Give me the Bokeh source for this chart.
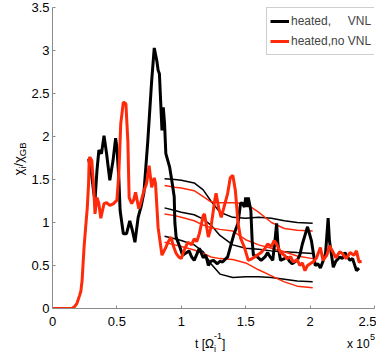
from bokeh.plotting import figure
from bokeh.models import Legend, LegendItem, FixedTicker, Range1d, Div
from bokeh.layouts import row, column
from bokeh.embed import file_html
from bokeh.resources import INLINE

# ---- data (time in units of 1e5 / Omega_i) ----
red_t = [0.00, 0.10, 0.15, 0.17, 0.19, 0.21, 0.22, 0.23, 0.245, 0.255, 0.27, 0.28, 0.285, 0.29, 0.305, 0.32, 0.33,
         0.345, 0.36, 0.375, 0.40, 0.42, 0.445, 0.475, 0.50, 0.515, 0.53, 0.55, 0.57, 0.585, 0.595, 0.615, 0.63,
         0.645, 0.67, 0.685, 0.71, 0.73, 0.75, 0.77, 0.79, 0.80, 0.82, 0.85, 0.88, 0.90, 0.92, 0.94, 0.96, 0.98,
         1.00, 1.02, 1.05, 1.08, 1.10, 1.12, 1.14, 1.17, 1.18, 1.21, 1.23, 1.26, 1.27, 1.29, 1.31, 1.33, 1.36,
         1.38, 1.40, 1.42, 1.44, 1.46, 1.49, 1.52, 1.55, 1.57, 1.60, 1.62, 1.65, 1.67, 1.70, 1.72, 1.74, 1.77,
         1.80, 1.82, 1.85, 1.87, 1.90, 1.92, 1.94, 1.96, 1.98, 2.00, 2.03, 2.05, 2.08, 2.10, 2.13, 2.15, 2.18,
         2.20, 2.23, 2.25, 2.28, 2.31, 2.34, 2.36, 2.38, 2.40]
red_v = [0, 0, 0, 0.02, 0.06, 0.15, 0.2, 0.33, 0.71, 0.9, 1.17, 1.45, 1.74, 1.76, 1.72, 1.41, 1.1, 1.29, 1.22,
         1.05, 1.22, 1.23, 1.2, 1.22, 1.26, 1.57, 2.15, 2.4, 2.38, 1.95, 1.29, 1.22, 1.26, 1.35, 1.16, 1.23, 1.37,
         1.45, 1.66, 1.41, 1.52, 1.45, 0.94, 0.62, 0.71, 0.78, 0.83, 0.72, 0.64, 0.6, 0.58, 0.67, 0.77, 0.74,
         0.81, 0.78, 0.87, 1.08, 1.1, 0.83, 0.94, 1.26, 1.34, 1.17, 1.06, 1.17, 1.34, 1.52, 1.55, 1.37, 1.0,
         0.82, 0.71, 0.56, 0.58, 0.6, 0.63, 0.65, 0.7, 0.75, 0.72, 0.79, 0.75, 0.65, 0.62, 0.58, 0.6, 0.54, 0.57,
         0.5, 0.53, 0.44, 0.5, 0.52, 0.55, 0.59, 0.71, 0.56, 0.62, 0.73, 0.65, 0.59, 0.66, 0.64, 0.58, 0.65,
         0.62, 0.67, 0.54, 0.55]

blk_t = [0.28, 0.30, 0.32, 0.33, 0.345, 0.36, 0.38, 0.40, 0.42, 0.445, 0.47, 0.49, 0.50, 0.515, 0.525, 0.55,
         0.575, 0.60, 0.62, 0.64, 0.665, 0.69, 0.71, 0.74, 0.77, 0.79, 0.81, 0.82, 0.83, 0.84, 0.85, 0.86, 0.87,
         0.88, 0.91, 0.93, 0.945, 0.95, 0.96, 0.99, 1.01, 1.03, 1.06, 1.08, 1.10, 1.12, 1.14, 1.17, 1.19, 1.21,
         1.23, 1.25, 1.28, 1.30, 1.32, 1.36, 1.38, 1.41, 1.44, 1.46, 1.47, 1.49, 1.50, 1.51, 1.52, 1.54, 1.55,
         1.56, 1.59, 1.62, 1.65, 1.67, 1.69, 1.71, 1.73, 1.74, 1.75, 1.77, 1.80, 1.82, 1.84, 1.86, 1.90, 1.92,
         1.94, 1.96, 1.98, 2.01, 2.04, 2.06, 2.08, 2.10, 2.12, 2.14, 2.15, 2.18, 2.20, 2.23, 2.25, 2.27, 2.29,
         2.31, 2.33, 2.36, 2.38]
blk_v = [1.74, 1.6, 1.35, 1.26, 1.6, 1.84, 1.8, 2.01, 1.8, 1.49, 1.72, 1.98, 1.87, 1.52, 1.14, 0.87, 0.87,
         1.02, 0.91, 0.77, 1.06, 1.2, 1.35, 1.95, 2.65, 3.03, 2.88, 2.77, 2.73, 2.4, 2.07, 2.34, 2.15, 1.8, 1.64,
         1.45, 1.3, 1.0, 0.83, 0.71, 0.62, 0.64, 0.67, 0.6, 0.56, 0.63, 0.7, 0.59, 0.62, 0.5, 0.55, 0.56, 0.52,
         0.55, 0.54, 0.6, 0.71, 0.87, 0.99, 1.22, 1.23, 1.18, 1.29, 1.18, 1.29, 1.14, 0.79, 0.62, 0.6, 0.56, 0.6,
         0.65, 0.6, 0.56, 0.83, 0.99, 0.75, 0.56, 0.58, 0.6, 0.55, 0.52, 0.56, 0.62, 0.75, 0.85, 0.95, 0.79,
         0.5, 0.52, 0.47, 0.55, 0.64, 1.05, 0.79, 0.48, 0.55, 0.6, 0.58, 0.65, 0.6, 0.56, 0.58, 0.44, 0.47]

thin_t = [0.87, 0.95, 1.0, 1.1, 1.17, 1.23, 1.3, 1.4, 1.5, 1.6, 1.7, 1.8, 1.9, 2.02]
thin_blk1 = [1.51, 1.50, 1.49, 1.46, 1.38, 1.25, 1.12, 1.06, 1.05, 1.06, 1.05, 1.02, 1.00, 0.99]
thin_red1 = [1.43, 1.41, 1.40, 1.37, 1.30, 1.24, 1.23, 1.23, 1.22, 1.12, 1.00, 0.93, 0.91, 0.90]
thin_blk2 = [1.17, 1.14, 1.12, 1.09, 1.04, 0.97, 0.85, 0.74, 0.70, 0.69, 0.67, 0.66, 0.65, 0.64]
thin_red2 = [1.10, 1.08, 1.06, 1.02, 0.97, 0.94, 0.92, 0.90, 0.80, 0.74, 0.70, 0.66, 0.61, 0.58]
thin_blk3 = [0.84, 0.81, 0.79, 0.74, 0.66, 0.52, 0.40, 0.36, 0.37, 0.37, 0.36, 0.34, 0.32, 0.31]
thin_red3 = [0.77, 0.74, 0.72, 0.68, 0.64, 0.60, 0.58, 0.57, 0.53, 0.45, 0.38, 0.31, 0.26, 0.24]

x_ticks = [0, 0.5, 1, 1.5, 2, 2.5]
x_tick_labels = ["0", "0.5", "1", "1.5", "2", "2.5"]
y_ticks = [0, 0.5, 1, 1.5, 2, 2.5, 3, 3.5]
y_tick_labels = ["0", "0.5", "1", "1.5", "2", "2.5", "3", "3.5"]

series_names = ["heated,\u00a0\u00a0\u00a0\u00a0\u00a0VNL", "heated,no VNL"]

RED = "#ff2a0a"
FONT = "Liberation Sans"
AX = "#8a8a8a"

p = figure(width=348, height=331, output_backend="svg", toolbar_location=None,
           x_range=Range1d(0, 2.5), y_range=Range1d(0, 3.5),
           min_border_left=22, min_border_right=2, min_border_top=7, min_border_bottom=23)
p.outline_line_color = None
p.xgrid.visible = False
p.ygrid.visible = False
p.background_fill_color = "white"
p.border_fill_color = "white"

for ax, ticks, labels in ((p.xaxis[0], x_ticks, x_tick_labels), (p.yaxis[0], y_ticks, y_tick_labels)):
    ax.ticker = FixedTicker(ticks=ticks)
    ax.major_label_overrides = {t: l for t, l in zip(ticks, labels)}
    ax.axis_line_color = AX
    ax.major_tick_line_color = AX
    ax.major_tick_in = 3
    ax.major_tick_out = 0
    ax.minor_tick_line_color = None
    ax.major_label_text_font = FONT
    ax.major_label_text_font_size = "13px"
    ax.major_label_text_color = "black"
p.xaxis.major_label_standoff = 8
p.yaxis.major_label_standoff = 3

for arr, col in ((thin_blk1, "black"), (thin_red1, RED), (thin_blk2, "black"),
                 (thin_red2, RED), (thin_blk3, "black"), (thin_red3, RED)):
    p.line(thin_t, arr, line_color=col, line_width=1.5)

r_blk = p.line(blk_t, blk_v, line_color="black", line_width=3)
r_red = p.line(red_t, red_v, line_color=RED, line_width=3)

legend = Legend(items=[LegendItem(label=series_names[0], renderers=[r_blk]),
                       LegendItem(label=series_names[1], renderers=[r_red])],
                location=(214, 253), margin=0, padding=3, spacing=0,
                glyph_width=19, glyph_height=20, label_height=20, label_standoff=2,
                label_text_font=FONT, label_text_font_size="12px",
                border_line_color="#a0a0a0", border_line_width=1,
                background_fill_color="white", background_fill_alpha=1)
p.add_layout(legend)

base = "position:absolute;white-space:nowrap;line-height:1;color:black;font-family:'Liberation Sans';"

def piece(text, left, top, size):
    return f'<span style="{base}left:{left}px;top:{top}px;font-size:{size}px;">{text}</span>'

# y-axis label: chi_i / chi_GB, rotated, centred at (20, 159)
ylab_html = (
    '<div style="position:relative;width:28px;height:331px;overflow:visible;">'
    f'<div style="{base}left:20px;top:159px;font-size:13px;'
    'transform:translate(-50%,-50%) rotate(-90deg);">'
    '\u03c7<span style="font-size:9.5px;vertical-align:-3px;">i</span>/'
    '\u03c7<span style="font-size:9.5px;vertical-align:-3px;">GB</span></div></div>'
)
ylab = Div(text=ylab_html, width=28, height=331, margin=0)

# x-axis label strip (page y 331..359)
xlab_html = (
    '<div style="position:relative;width:376px;height:28px;overflow:visible;">'
    + piece("t [\u03a9", 195, 7, 12)
    + piece("i", 214, 13.5, 9)
    + piece("-1", 214, 0.5, 9)
    + piece("]", 222, 7, 12)
    + piece("x 10", 347, 7, 12)
    + piece("5", 370, 1.5, 9)
    + '</div>'
)
xlab = Div(text=xlab_html, width=376, height=28, margin=0)

layout = column(row(ylab, p, spacing=0), xlab, spacing=0)

open("out.html", "w").write(file_html(layout, INLINE))
